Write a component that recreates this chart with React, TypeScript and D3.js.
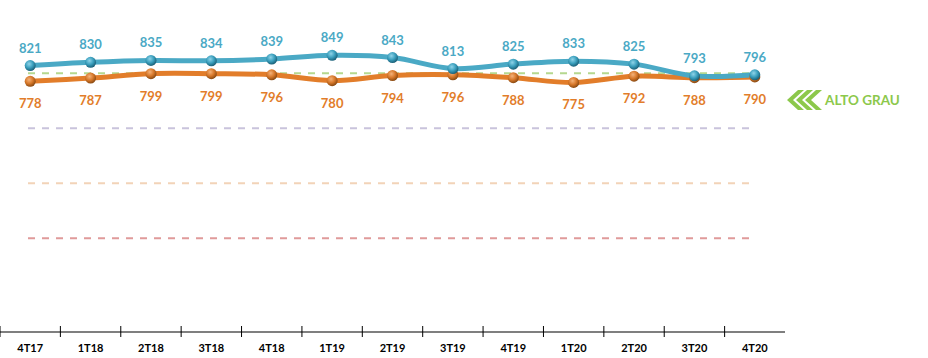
import React from "react";
import * as d3 from "d3";

const categories = ["4T17", "1T18", "2T18", "3T18", "4T18", "1T19", "2T19", "3T19", "4T19", "1T20", "2T20", "3T20", "4T20"];
const seriesBlue = [821, 830, 835, 834, 839, 849, 843, 813, 825, 833, 825, 793, 796];
const seriesOrange = [778, 787, 799, 799, 796, 780, 794, 796, 788, 775, 792, 788, 790];
const thresholds = [800, 650, 500, 350];
const thresholdColors = ["#b5d88f", "#c9c3dc", "#f2d3b8", "#e09a9a"];
const thresholdLabel = "ALTO GRAU";

const W = 928;
const H = 358;

export default function App() {
  const x = d3.scaleBand<string>().domain(categories).range([0, 785]);
  const y = d3.scaleLinear().domain([350, 800]).range([238.3, 73.3]);
  const cx = (c: string) => (x(c) as number) + x.bandwidth() / 2;

  const line = d3
    .line<number>()
    .x((_, i) => cx(categories[i]))
    .y((v) => y(v))
    .curve(d3.curveCatmullRom.alpha(0.5));

  const font = "Lato, 'Open Sans', sans-serif";
  const blue = "#4aa9c5";
  const orange = "#e27d2a";
  const green = "#8cc84b";

  const chev = (x0: number, yc: number) => {
    const w = 11, h = 10, t = 6;
    return `M${x0 + w},${yc - h} L${x0 + w + t},${yc - h} L${x0 + t},${yc} L${x0 + w + t},${yc + h} L${x0 + w},${yc + h} L${x0},${yc} Z`;
  };

  return (
    <svg width={W} height={H} style={{ position: "absolute", left: 0, top: 0, background: "#fff" }}>
      <defs>
        <radialGradient id="gb" cx="40%" cy="35%" r="65%">
          <stop offset="0%" stopColor="#8fd3e8" />
          <stop offset="55%" stopColor="#3a9fbd" />
          <stop offset="100%" stopColor="#1b6078" />
        </radialGradient>
        <radialGradient id="go" cx="40%" cy="35%" r="65%">
          <stop offset="0%" stopColor="#f4b27a" />
          <stop offset="55%" stopColor="#d7782a" />
          <stop offset="100%" stopColor="#8a4a12" />
        </radialGradient>
      </defs>

      {thresholds.map((t, i) => (
        <line
          key={t}
          x1={28}
          x2={752}
          y1={y(t)}
          y2={y(t)}
          stroke={thresholdColors[i]}
          strokeWidth={2}
          strokeDasharray="7,7"
        />
      ))}

      <path d={line(seriesOrange) || ""} fill="none" stroke={orange} strokeWidth={5} strokeLinecap="round" />
      <path d={line(seriesBlue) || ""} fill="none" stroke={blue} strokeWidth={5} strokeLinecap="round" />

      {seriesOrange.map((v, i) => (
        <circle key={"o" + i} cx={cx(categories[i])} cy={y(v)} r={5.5} fill="url(#go)" />
      ))}
      {seriesBlue.map((v, i) => (
        <circle key={"b" + i} cx={cx(categories[i])} cy={y(v)} r={5.5} fill="url(#gb)" />
      ))}

      {seriesBlue.map((v, i) => (
        <text
          key={"tb" + i}
          x={cx(categories[i])}
          y={y(v) - 13}
          textAnchor="middle"
          fontFamily={font}
          fontWeight="bold"
          fontSize={13}
          fill={blue}
        >
          {v}
        </text>
      ))}
      {seriesOrange.map((v, i) => (
        <text
          key={"to" + i}
          x={cx(categories[i])}
          y={y(v) + 27}
          textAnchor="middle"
          fontFamily={font}
          fontWeight="bold"
          fontSize={13}
          fill={orange}
        >
          {v}
        </text>
      ))}

      {[0, 1, 2].map((k) => (
        <path key={"c" + k} d={chev(787 + k * 9, 100)} fill={green} />
      ))}
      <text x={825} y={105} fontFamily={font} fontWeight="bold" fontSize={13.5} fill={green}>
        {thresholdLabel}
      </text>

      <line x1={0} x2={785} y1={332} y2={332} stroke="#000" strokeWidth={1.2} />
      {categories.map((c) => (
        <line key={"tk" + c} x1={x(c) as number} x2={x(c) as number} y1={326} y2={337} stroke="#000" strokeWidth={1} />
      ))}
      {categories.map((c) => (
        <text
          key={"lb" + c}
          x={cx(c)}
          y={352}
          textAnchor="middle"
          fontFamily={font}
          fontWeight="bold"
          fontSize={11}
          fill="#000"
        >
          {c}
        </text>
      ))}
    </svg>
  );
}
